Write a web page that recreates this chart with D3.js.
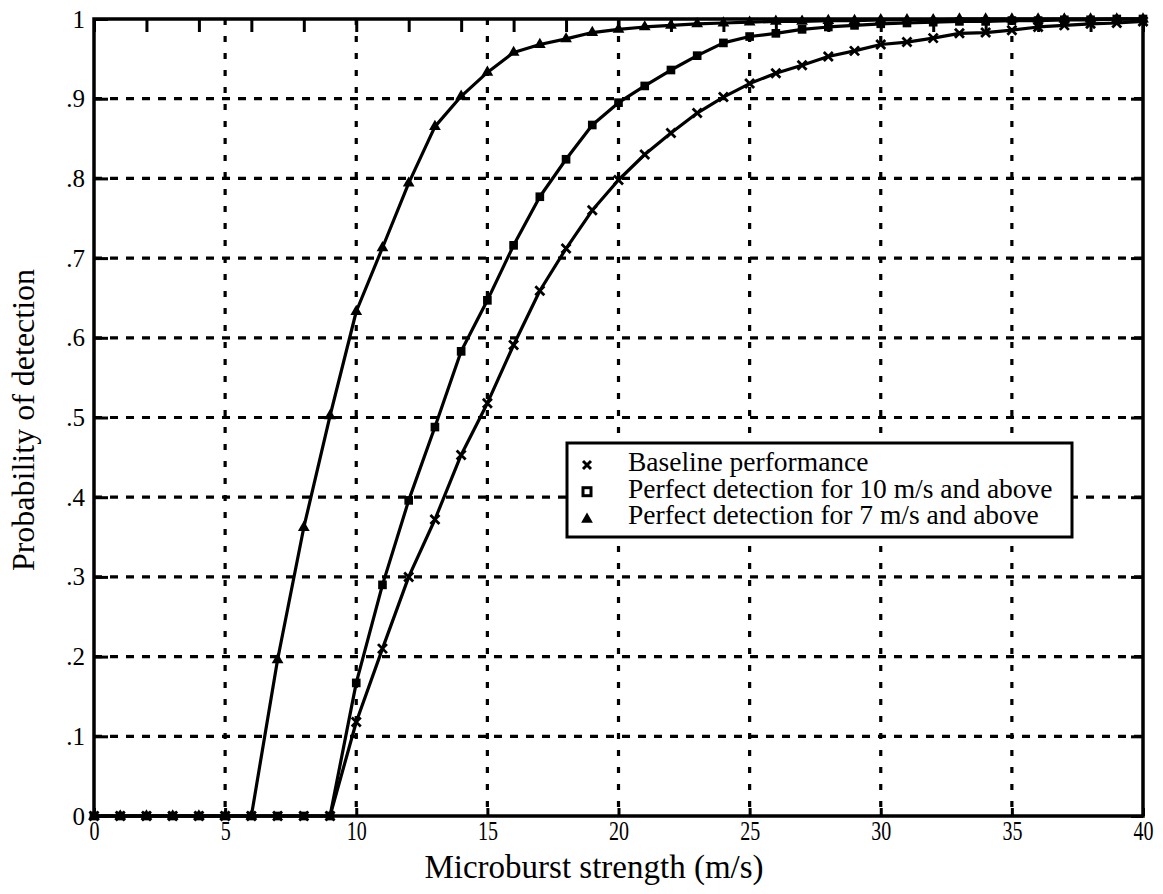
<!DOCTYPE html>
<html>
<head>
<meta charset="utf-8">
<script src="https://cdn.jsdelivr.net/npm/d3@7"></script>
<style>
  body { margin: 0; background: #fff; }
  text { font-family: "Liberation Serif", "Times New Roman", serif; fill: #000; }
</style>
</head>
<body>
<div id="chart"></div>
<script>
// data (x = 0..40 m/s)
const speeds = d3.range(0, 41);
const baseline = [0, 0, 0, 0, 0, 0, 0, 0, 0, 0,
  0.118, 0.210, 0.300, 0.372, 0.453, 0.518, 0.591, 0.659, 0.712, 0.760,
  0.798, 0.830, 0.857, 0.882, 0.902, 0.919, 0.932, 0.942, 0.953, 0.960,
  0.968, 0.971, 0.976, 0.982, 0.983, 0.986, 0.990, 0.992, 0.994, 0.995, 0.997];
const perfect10 = [0, 0, 0, 0, 0, 0, 0, 0, 0, 0,
  0.167, 0.290, 0.396, 0.488, 0.583, 0.647, 0.716, 0.777, 0.824, 0.867,
  0.895, 0.916, 0.936, 0.954, 0.970, 0.978, 0.982, 0.987, 0.990, 0.992,
  0.994, 0.995, 0.996, 0.997, 0.997, 0.998, 0.998, 0.999, 0.999, 1.0, 1.0];
const perfect7 = [0, 0, 0, 0, 0, 0, 0, 0.196, 0.362, 0.502,
  0.633, 0.713, 0.794, 0.865, 0.903, 0.933, 0.958, 0.968, 0.975, 0.983,
  0.987, 0.990, 0.992, 0.994, 0.995, 0.996, 0.997, 0.997, 0.998, 0.998,
  0.999, 0.999, 0.999, 1.0, 1.0, 1.0, 1.0, 1.0, 1.0, 1.0, 1.0];

const xTicks = [0, 5, 10, 15, 20, 25, 30, 35, 40];
const yTicks = [0, 0.1, 0.2, 0.3, 0.4, 0.5, 0.6, 0.7, 0.8, 0.9, 1];
const legendLabels = ["Baseline performance",
  "Perfect detection for 10 m/s and above",
  "Perfect detection for 7 m/s and above"];

function drawChart() {
    const W = 1163, H = 894;
    const plot = { left: 94, right: 1143, top: 19, bottom: 816 };

    const svg = d3.select("#chart").append("svg")
        .attr("width", W)
        .attr("height", H);

    svg.append("rect").attr("width", W).attr("height", H).attr("fill", "#fff");

    const x = d3.scaleLinear().domain([0, 40]).range([plot.left, plot.right]);
    const y = d3.scaleLinear().domain([0, 1]).range([plot.bottom, plot.top]);

    // dotted grid
    const grid = svg.append("g").attr("stroke", "#000").attr("stroke-width", 3.2);
    grid.selectAll(".vg")
        .data(xTicks.filter(d => d > 0 && d < 40))
        .enter().append("line")
        .attr("x1", d => x(d)).attr("x2", d => x(d))
        .attr("y1", y(1)).attr("y2", y(0))
        .attr("stroke-dasharray", "6,11");
    grid.selectAll(".hg")
        .data(yTicks.filter(d => d > 0 && d < 1))
        .enter().append("line")
        .attr("x1", x(0)).attr("x2", x(40))
        .attr("y1", d => y(d)).attr("y2", d => y(d))
        .attr("stroke-dasharray", "8,8");

    // axes with inward ticks
    const yFmt = d => d === 0 ? "0" : d === 1 ? "1" : d3.format(".1f")(d).replace(/^0/, "");

    const gl = svg.append("g")
        .attr("transform", `translate(${plot.left},0)`)
        .call(d3.axisLeft(y).tickValues(yTicks).tickFormat(yFmt).tickSize(-14).tickPadding(9));
    gl.selectAll("text").style("font-size", "25px");

    // x tick labels in the scan are tall and narrow
    const gb = svg.append("g")
        .attr("transform", `translate(0,${plot.bottom})`)
        .call(d3.axisBottom(x).tickValues(xTicks).tickSize(-8).tickPadding(4));
    gb.selectAll("text").style("font-size", "25px").attr("transform", "scale(0.8,1.12)");

    svg.append("g")
        .attr("transform", `translate(0,${plot.top})`)
        .call(d3.axisTop(x).tickValues(d3.range(0, 41, 2)).tickFormat("").tickSize(-13));

    svg.append("g")
        .attr("transform", `translate(${plot.right},0)`)
        .call(d3.axisRight(y).tickValues(yTicks).tickFormat("").tickSize(-12));

    svg.selectAll(".domain").remove();
    svg.selectAll(".tick line").attr("stroke", "#000").attr("stroke-width", 3);
    svg.selectAll(".tick text").attr("fill", "#000").style("font-family", "Liberation Serif");

    // box
    svg.append("rect")
        .attr("x", plot.left).attr("y", plot.top)
        .attr("width", plot.right - plot.left).attr("height", plot.bottom - plot.top)
        .attr("fill", "none").attr("stroke", "#000").attr("stroke-width", 3.5);

    // curves
    const line = d3.line().x(d => x(d.x)).y(d => y(d.y));
    const series = [
        { values: baseline, mark: "cross" },
        { values: perfect10, mark: "square" },
        { values: perfect7, mark: "triangle" }
    ];

    series.forEach(s => {
        const pts = speeds.map((v, i) => ({ x: v, y: s.values[i] }));
        svg.append("path")
            .datum(pts)
            .attr("d", line)
            .attr("fill", "none")
            .attr("stroke", "#000")
            .attr("stroke-width", 3.2)
            .attr("stroke-linejoin", "round");

        const m = svg.append("g").selectAll("path")
            .data(pts).enter().append("path")
            .attr("transform", d => `translate(${x(d.x)},${y(d.y)})`);
        if (s.mark === "cross") {
            m.attr("d", "M-4.5,-4.5L4.5,4.5M-4.5,4.5L4.5,-4.5")
                .attr("stroke", "#000").attr("stroke-width", 2.8).attr("fill", "none");
        } else if (s.mark === "square") {
            m.attr("d", d3.symbol(d3.symbolSquare, 75)).attr("fill", "#000");
        } else {
            m.attr("d", d3.symbol(d3.symbolTriangle, 60)).attr("fill", "#000");
        }
    });

    // legend (rows are tight in the original)
    const lg = svg.append("g");
    lg.append("rect")
        .attr("x", 567).attr("y", 443).attr("width", 505).attr("height", 94)
        .attr("fill", "#fff").attr("stroke", "#000").attr("stroke-width", 3);

    legendLabels.forEach((label, i) => {
        const cy = 465 + i * 26.7;
        if (i === 0) {
            lg.append("path")
                .attr("transform", `translate(587,${cy})`)
                .attr("d", "M-4,-4L4,4M-4,4L4,-4")
                .attr("stroke", "#000").attr("stroke-width", 3).attr("fill", "none");
        } else if (i === 1) {
            lg.append("rect")
                .attr("x", 587 - 4).attr("y", cy - 4).attr("width", 8).attr("height", 8)
                .attr("fill", "#fff").attr("stroke", "#000").attr("stroke-width", 3);
        } else {
            lg.append("path")
                .attr("transform", `translate(587,${cy + 1})`)
                .attr("d", d3.symbol(d3.symbolTriangle, 60))
                .attr("fill", "#000");
        }
        lg.append("text")
            .attr("x", 628).attr("y", cy + 6)
            .style("font-size", "27.5px")
            .text(label);
    });

    // axis titles
    svg.append("text")
        .attr("x", 594).attr("y", 878)
        .attr("text-anchor", "middle")
        .style("font-size", "33px")
        .text("Microburst strength (m/s)");

    svg.append("text")
        .attr("transform", `translate(34,420) rotate(-90)`)
        .attr("text-anchor", "middle")
        .style("font-size", "32px")
        .text("Probability of detection");
}

drawChart();
</script>
</body>
</html>
